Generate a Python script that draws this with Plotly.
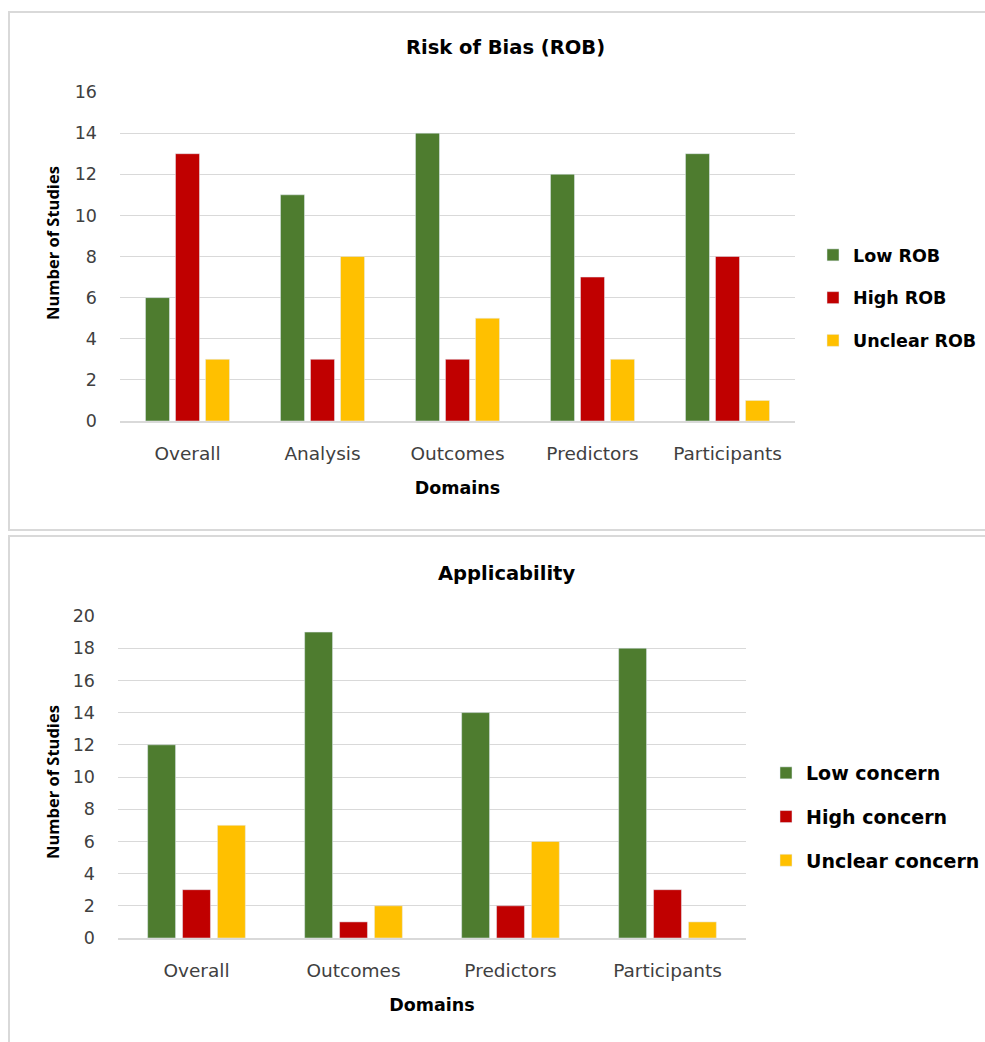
import plotly.graph_objects as go

# Risk of bias panel
rob_domains = ["Overall", "Analysis", "Outcomes", "Predictors", "Participants"]
rob_low = [6, 11, 14, 12, 13]
rob_high = [13, 3, 3, 7, 8]
rob_unclear = [3, 8, 5, 3, 1]

# Applicability panel
app_domains = ["Overall", "Outcomes", "Predictors", "Participants"]
app_low = [12, 19, 14, 18]
app_high = [3, 1, 2, 3]
app_unclear = [7, 2, 6, 1]

GREEN = "#4E7C2F"
RED = "#C00000"
YELLOW = "#FFC000"
GRID = "#D9D9D9"
FONT = "'DejaVu Sans', sans-serif"
VFONT = "'Open Sans', sans-serif"
W, H = 985, 1042


def px_x(x):
    return x / W


def px_y(y):
    return 1 - y / H


fig = go.Figure()

for name, vals, col in [("Low ROB", rob_low, GREEN), ("High ROB", rob_high, RED),
                        ("Unclear ROB", rob_unclear, YELLOW)]:
    fig.add_trace(go.Bar(x=rob_domains, y=vals, name=name, marker_color=col,
                         xaxis="x", yaxis="y", legend="legend", legendgroup=name))

for name, vals, col in [("Low concern", app_low, GREEN), ("High concern", app_high, RED),
                        ("Unclear concern", app_unclear, YELLOW)]:
    fig.add_trace(go.Bar(x=app_domains, y=vals, name=name, marker_color=col,
                         xaxis="x2", yaxis="y2", legend="legend2", legendgroup=name))

xtick_font = dict(family=FONT, size=18.5, color="#404040")
ytick_font = dict(family=FONT, size=17.5, color="#404040")
xtitle_font = dict(family=FONT, size=17.5, color="#000000", weight="bold")
ytitle_font = dict(family=VFONT, size=16.5, color="#000000", weight="bold")

common_x = dict(showgrid=False, showline=True, linecolor=GRID, linewidth=2,
                ticks="", tickfont=xtick_font, ticklabelstandoff=15, automargin=False,
                title_font=xtitle_font, title_standoff=19)
common_y = dict(showgrid=True, gridcolor=GRID, gridwidth=1, zeroline=False,
                showline=False, ticks="", tickfont=ytick_font, ticklabelstandoff=22,
                automargin=False)


def ytitle(text, y_center):
    return dict(text=text, x=px_x(52), y=px_y(y_center), xref="paper", yref="paper",
                showarrow=False, textangle=-90, xanchor="center", yanchor="middle",
                font=ytitle_font)


fig.update_layout(
    width=W, height=H,
    margin=dict(l=0, r=0, t=0, b=0, autoexpand=False),
    paper_bgcolor="white", plot_bgcolor="white",
    barmode="group", bargap=0.333, bargroupgap=0.2,
    font=dict(family=FONT),
    xaxis=dict(domain=[px_x(120), px_x(795)], anchor="y",
               title_text="Domains", **common_x),
    yaxis=dict(domain=[px_y(421), px_y(92)], anchor="x", range=[0, 16], dtick=2,
               **common_y),
    xaxis2=dict(domain=[px_x(118), px_x(746)], anchor="y2",
                title_text="Domains", **common_x),
    yaxis2=dict(domain=[px_y(938), px_y(616)], anchor="x2", range=[0, 20], dtick=2,
                **common_y),
    legend=dict(x=px_x(813), y=px_y(237), xanchor="left", yanchor="top",
                font=dict(family=FONT, size=17.5, color="#000000", weight="bold"),
                tracegroupgap=17, bgcolor="rgba(0,0,0,0)"),
    legend2=dict(x=px_x(766), y=px_y(754), xanchor="left", yanchor="top",
                 font=dict(family=FONT, size=19, color="#000000", weight="bold"),
                 tracegroupgap=16, bgcolor="rgba(0,0,0,0)"),
    annotations=[
        dict(text="Risk of Bias (ROB)", x=px_x(505), y=px_y(47), xref="paper", yref="paper",
             showarrow=False, xanchor="center", yanchor="middle",
             font=dict(family=FONT, size=19.5, color="#000000", weight="bold")),
        dict(text="Applicability", x=px_x(506), y=px_y(573), xref="paper", yref="paper",
             showarrow=False, xanchor="center", yanchor="middle",
             font=dict(family=FONT, size=19.5, color="#000000", weight="bold")),
        ytitle("Number of Studies", 243),
        ytitle("Number of Studies", 782),
    ],
    shapes=[
        dict(type="rect", xref="paper", yref="paper",
             x0=px_x(9), x1=px_x(1000), y0=px_y(530), y1=px_y(12),
             line=dict(color=GRID, width=2), fillcolor="rgba(0,0,0,0)", layer="below"),
        dict(type="rect", xref="paper", yref="paper",
             x0=px_x(9), x1=px_x(1000), y0=px_y(1060), y1=px_y(536),
             line=dict(color=GRID, width=2), fillcolor="rgba(0,0,0,0)", layer="below"),
    ],
)

fig.write_html("out.html")
